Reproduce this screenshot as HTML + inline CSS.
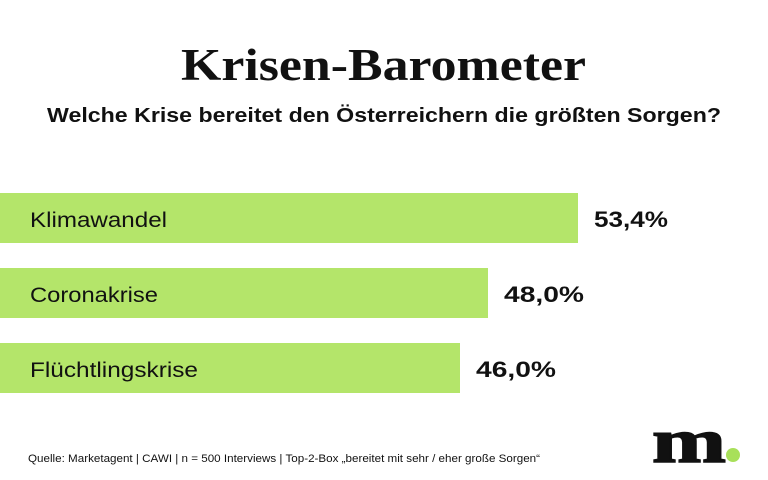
<!DOCTYPE html>
<html><head><meta charset="utf-8"><style>
html,body{margin:0;padding:0;background:#fff;}
svg{display:block;}
</style></head><body>
<svg width="768" height="480" viewBox="0 0 768 480" xmlns="http://www.w3.org/2000/svg">
<rect width="768" height="480" fill="#fff"/>
<text x="181" y="80" font-family="Liberation Serif, serif" font-weight="bold" font-size="45" textLength="405" lengthAdjust="spacingAndGlyphs" fill="#111">Krisen-Barometer</text>
<text x="47" y="122" font-family="Liberation Sans, sans-serif" font-weight="bold" font-size="20" textLength="674" lengthAdjust="spacingAndGlyphs" fill="#111">Welche Krise bereitet den Österreichern die größten Sorgen?</text>
<g fill="#b4e56a">
<rect x="0" y="193" width="578" height="50"/>
<rect x="0" y="268" width="488" height="50"/>
<rect x="0" y="343" width="460" height="50"/>
</g>
<g font-family="Liberation Sans, sans-serif" font-size="21" fill="#111">
<text x="30" y="227" textLength="137" lengthAdjust="spacingAndGlyphs">Klimawandel</text>
<text x="30" y="302" textLength="128" lengthAdjust="spacingAndGlyphs">Coronakrise</text>
<text x="30" y="377" textLength="168" lengthAdjust="spacingAndGlyphs">Flüchtlingskrise</text>
</g>
<g font-family="Liberation Sans, sans-serif" font-weight="bold" font-size="22" fill="#111">
<text x="594" y="227" textLength="74" lengthAdjust="spacingAndGlyphs">53,4%</text>
<text x="504" y="302" textLength="80" lengthAdjust="spacingAndGlyphs">48,0%</text>
<text x="476" y="377" textLength="80" lengthAdjust="spacingAndGlyphs">46,0%</text>
</g>
<text x="28" y="462" font-family="Liberation Sans, sans-serif" font-size="11" textLength="512" lengthAdjust="spacingAndGlyphs" fill="#111">Quelle: Marketagent | CAWI | n = 500 Interviews | Top-2-Box „bereitet mit sehr / eher große Sorgen“</text>
<text x="652" y="462" font-family="Liberation Serif, serif" font-weight="bold" font-size="62" textLength="74" lengthAdjust="spacingAndGlyphs" fill="#111" stroke="#111" stroke-width="1.5">m</text>
<circle cx="733" cy="455" r="7" fill="#a8e05a"/>
</svg>
</body></html>
